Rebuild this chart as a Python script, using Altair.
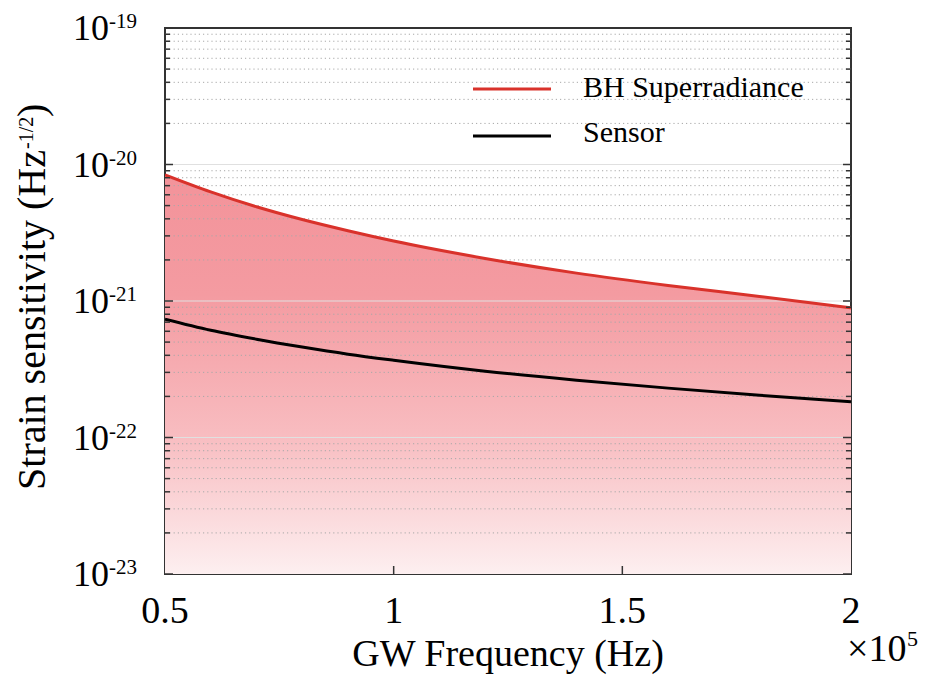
import altair as alt
import pandas as pd

# ---- data (frequency in units of 1e5 Hz) ----
freq = [0.5, 0.6, 0.7, 0.8, 0.9, 1.0, 1.2, 1.4, 1.6, 1.8, 2.0]
bh_superradiance = [8.4e-21, 6.3e-21, 4.9e-21, 3.95e-21, 3.27e-21, 2.75e-21,
                    2.05e-21, 1.6e-21, 1.3e-21, 1.08e-21, 0.89e-21]
sensor = [7.35e-22, 6.1e-22, 5.25e-22, 4.6e-22, 4.08e-22, 3.68e-22,
          3.06e-22, 2.63e-22, 2.3e-22, 2.04e-22, 1.83e-22]

series_names = ["BH Superradiance", "Sensor"]
series_colors = ["#d9322b", "#000000"]

y_exponents = [-23, -22, -21, -20, -19]
minor_mults = [2, 3, 4, 5, 6, 7, 8, 9]
x_ticks = [0.5, 1.0, 1.5, 2.0]
x_tick_labels = ["0.5", "1", "1.5", "2"]

FONT = "Liberation Serif, Times New Roman, Times, DejaVu Serif, serif"
W, H = 686, 546

xs = alt.Scale(domain=[0.5, 2.0], nice=False, zero=False)
ys = alt.Scale(type="log", domain=[1e-23, 1e-19], nice=False)

df = pd.DataFrame({"f": freq, "bh": bh_superradiance, "sensor": sensor})
df["floor"] = 1e-23

major_vals = [10.0 ** e for e in y_exponents]
minor_vals = [m * 10.0 ** e for e in y_exponents[:-1] for m in minor_mults]
df_major = pd.DataFrame({"v": major_vals})
df_major_inner = pd.DataFrame({"v": [10.0 ** e for e in y_exponents[1:-1]]})
df_minor = pd.DataFrame({"v": minor_vals})
df_ylab = pd.DataFrame({"v": major_vals,
                        "base": ["10"] * len(y_exponents),
                        "sup": [str(e) for e in y_exponents]})
df_xlab = pd.DataFrame({"f": x_ticks, "lab": x_tick_labels})
df_xtick = pd.DataFrame({"f": [1.0, 1.5]})

X = lambda f: alt.X(f, scale=xs, axis=None)
Y = lambda f: alt.Y(f, scale=ys, axis=None)

gradient = alt.Gradient(
    gradient="linear", x1=0, x2=0, y1=0, y2=1,
    stops=[alt.GradientStop(color="#f3939a", offset=0),
           alt.GradientStop(color="#f49ba1", offset=0.3),
           alt.GradientStop(color="#f8bcc0", offset=0.65),
           alt.GradientStop(color="#fdeff0", offset=1)])

area = alt.Chart(df).mark_area(color=gradient, clip=True, interpolate="monotone").encode(
    x=X("f:Q"), y=Y("bh:Q"), y2="floor:Q")

grid_minor = alt.Chart(df_minor).mark_rule(stroke="#a8a8a8", strokeWidth=1, strokeDash=[1.2, 3]).encode(
    y=Y("v:Q"))
grid_major = alt.Chart(df_major_inner).mark_rule(stroke="#e0e0e0", strokeWidth=1).encode(
    y=Y("v:Q"))

line_bh = alt.Chart(df).mark_line(color=series_colors[0], strokeWidth=3, clip=True,
                                  interpolate="monotone").encode(x=X("f:Q"), y=Y("bh:Q"))
line_sensor = alt.Chart(df).mark_line(color=series_colors[1], strokeWidth=3, clip=True,
                                      interpolate="monotone").encode(x=X("f:Q"), y=Y("sensor:Q"))

tick_col = "#333333"
tl_major = alt.Chart(df_major).mark_rule(color=tick_col, strokeWidth=1.5).encode(
    y=Y("v:Q"), x=alt.value(0), x2=alt.value(8))
tr_major = alt.Chart(df_major).mark_rule(color=tick_col, strokeWidth=1.5).encode(
    y=Y("v:Q"), x=alt.value(W), x2=alt.value(W - 8))
tl_minor = alt.Chart(df_minor).mark_rule(color=tick_col, strokeWidth=1.5).encode(
    y=Y("v:Q"), x=alt.value(0), x2=alt.value(5))
tr_minor = alt.Chart(df_minor).mark_rule(color=tick_col, strokeWidth=1.5).encode(
    y=Y("v:Q"), x=alt.value(W), x2=alt.value(W - 5))
tb = alt.Chart(df_xtick).mark_rule(color=tick_col, strokeWidth=1.5).encode(
    x=X("f:Q"), y=alt.value(H), y2=alt.value(H - 8))

ylab_base = alt.Chart(df_ylab).mark_text(font=FONT, fontSize=36, align="right",
                                         baseline="alphabetic", dy=12, color="black").encode(
    y=Y("v:Q"), x=alt.value(-56), text="base:N")
ylab_sup = alt.Chart(df_ylab).mark_text(font=FONT, fontSize=21, align="left",
                                        baseline="alphabetic", dy=0, color="black").encode(
    y=Y("v:Q"), x=alt.value(-56), text="sup:N")

xlab = alt.Chart(df_xlab).mark_text(font=FONT, fontSize=38, align="center",
                                    baseline="alphabetic", color="black").encode(
    x=X("f:Q"), y=alt.value(H + 49), text="lab:N")

xtitle = alt.Chart(pd.DataFrame({"t": ["GW Frequency (Hz)"]})).mark_text(
    font=FONT, fontSize=38, align="center", baseline="alphabetic", color="black").encode(
    x=alt.value(W / 2), y=alt.value(H + 92), text="t:N")
xmult = alt.Chart(pd.DataFrame({"t": ["×10"]})).mark_text(
    font=FONT, fontSize=38, align="left", baseline="alphabetic", color="black").encode(
    x=alt.value(682), y=alt.value(H + 87), text="t:N")
xmult_sup = alt.Chart(pd.DataFrame({"t": ["5"]})).mark_text(
    font=FONT, fontSize=22, align="left", baseline="alphabetic", color="black").encode(
    x=alt.value(742), y=alt.value(H + 72), text="t:N")

ytitle = alt.Chart(pd.DataFrame({"t": ["Strain sensitivity (Hz"]})).mark_text(
    font=FONT, fontSize=40, align="right", baseline="alphabetic", angle=270, color="black").encode(
    x=alt.value(-120), y=alt.value(122), text="t:N")
ytitle_sup = alt.Chart(pd.DataFrame({"t": ["-1/2"]})).mark_text(
    font=FONT, fontSize=20, align="left", baseline="alphabetic", angle=270, color="black").encode(
    x=alt.value(-132), y=alt.value(121), text="t:N")
ytitle_close = alt.Chart(pd.DataFrame({"t": [")"]})).mark_text(
    font=FONT, fontSize=40, align="left", baseline="alphabetic", angle=270, color="black").encode(
    x=alt.value(-120), y=alt.value(89), text="t:N")

# manual legend
leg_layers = []
leg_line_y = [61, 108]
leg_text_y = [69, 114]
for name, col, ly, ty in zip(series_names, series_colors, leg_line_y, leg_text_y):
    dfl = pd.DataFrame({"name": [name]})
    leg_layers.append(alt.Chart(dfl).mark_rule(color=col, strokeWidth=3).encode(
        x=alt.value(308), x2=alt.value(386), y=alt.value(ly)))
    leg_layers.append(alt.Chart(dfl).mark_text(font=FONT, fontSize=30, align="left",
                                               baseline="alphabetic", color="black").encode(
        x=alt.value(418), y=alt.value(ty), text="name:N"))

chart = alt.layer(
    area, grid_major, grid_minor, line_bh, line_sensor,
    tl_major, tr_major, tl_minor, tr_minor, tb,
    ylab_base, ylab_sup, xlab, xtitle, xmult, xmult_sup,
    ytitle, ytitle_sup, ytitle_close, *leg_layers
).properties(
    width=W, height=H,
    padding={"left": 157, "top": 20, "right": 67, "bottom": 102},
    autosize=alt.AutoSizeParams(type="none"),
).configure_view(stroke="#333333", strokeWidth=2)

chart.save("out.html", embed_options={"renderer": "svg", "actions": False})
